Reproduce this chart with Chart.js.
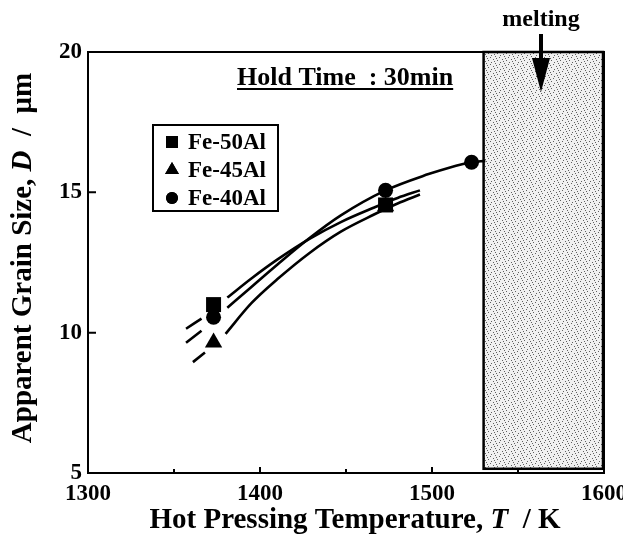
<!DOCTYPE html>
<html>
<head>
<meta charset="utf-8">
<script src="https://cdn.jsdelivr.net/npm/chart.js@4.4.0/dist/chart.umd.min.js"></script>
<style>
  html, body { margin: 0; padding: 0; background: #fff; }
  #wrap { width: 623px; height: 536px; }
</style>
</head>
<body>
<div id="wrap"><canvas id="grainChart" width="623" height="536"></canvas></div>
<script>
const SERIF = '"Liberation Serif", "Times New Roman", serif';

// measured grain size (um) against hot pressing temperature (K)
const fe50Temps = [1373, 1473];
const fe50Sizes = [11.0, 14.55];
const fe45Temps = [1373, 1473];
const fe45Sizes = [9.65, 14.5];
const fe40Temps = [1373, 1473, 1523];
const fe40Sizes = [10.55, 15.07, 16.07];

// trend lines; the null leaves a break around the 1373 K symbols
const fe50FitTemps = [1357, 1366, 1373, 1381, 1395, 1410, 1429, 1447, 1466, 1480, 1493];
const fe50FitSizes = [10.14, 10.5, null, 11.25, 11.93, 12.6, 13.35, 13.94, 14.45, 14.8, 15.07];
const fe45FitTemps = [1361, 1368, 1373, 1380, 1395, 1410, 1429, 1447, 1466, 1480, 1493];
const fe45FitSizes = [8.95, 9.29, null, 9.96, 11.05, 11.9, 12.85, 13.6, 14.2, 14.6, 14.92];
const fe40FitTemps = [1357, 1366, 1373, 1381, 1395, 1410, 1429, 1447, 1473, 1498, 1510, 1523, 1531];
const fe40FitSizes = [9.64, 10.07, null, 10.89, 11.63, 12.42, 13.38, 14.18, 15.07, 15.65, 15.88, 16.07, 16.12];

// melting region
const meltTemps = [1530, 1600];
const meltSizes = [5.15, 20];

const xTicks = [1300, 1400, 1500, 1600];
const yTicks = [5, 10, 15, 20];
const legendOrder = ['Fe-50Al', 'Fe-45Al', 'Fe-40Al'];

const toPoints = (xs, ys) => xs.map((x, i) => ({ x: x, y: ys[i] }));

function marker(label, style, radius, xs, ys) {
  return {
    label: label,
    data: toPoints(xs, ys),
    showLine: false,
    pointStyle: style,
    pointRadius: radius,
    pointHoverRadius: radius,
    pointBackgroundColor: '#000',
    pointBorderColor: '#000',
    pointBorderWidth: 0,
  };
}

function fitLine(xs, ys) {
  return {
    label: '',
    data: toPoints(xs, ys),
    borderColor: '#000',
    borderWidth: 2.6,
    pointRadius: 0,
    cubicInterpolationMode: 'monotone',
    spanGaps: false,
    fill: false,
  };
}

function stipple(ctx) {
  const c = document.createElement('canvas');
  c.width = 9; c.height = 7;
  const g = c.getContext('2d');
  g.fillStyle = '#f0f0f0';
  g.fillRect(0, 0, 9, 7);
  g.fillStyle = '#606060';
  [[0, 0], [4, 1], [7, 3], [2, 4], [5, 6], [8, 5], [1, 2]].forEach(p => g.fillRect(p[0], p[1], 1, 1));
  return ctx.createPattern(c, 'repeat');
}

// draws a run of [text, italic] pieces starting at x
function mixedText(ctx, parts, size, x, y, align) {
  const fontOf = it => (it ? 'italic ' : '') + 'bold ' + size + 'px ' + SERIF;
  let total = 0;
  parts.forEach(p => { ctx.font = fontOf(p[1]); total += ctx.measureText(p[0]).width; });
  let cx = align === 'center' ? x - total / 2 : x;
  ctx.textAlign = 'left';
  parts.forEach(p => {
    ctx.font = fontOf(p[1]);
    ctx.fillText(p[0], cx, y);
    cx += ctx.measureText(p[0]).width;
  });
  return total;
}

const meltingZone = {
  id: 'meltingZone',
  beforeDatasetsDraw(chart) {
    const { ctx, scales: { x, y } } = chart;
    const l = x.getPixelForValue(meltTemps[0]);
    const r = x.getPixelForValue(meltTemps[1]);
    const t = y.getPixelForValue(meltSizes[1]);
    const b = y.getPixelForValue(meltSizes[0]);
    ctx.save();
    ctx.fillStyle = stipple(ctx);
    ctx.fillRect(l, t, r - l, b - t);
    ctx.strokeStyle = '#000';
    ctx.lineWidth = 2.5;
    ctx.strokeRect(l, t, r - l - 1, b - t);
    ctx.restore();
  }
};

const frame = {
  id: 'frame',
  afterDatasetsDraw(chart) {
    const { ctx, chartArea: a, scales: { x, y } } = chart;
    ctx.save();
    ctx.strokeStyle = '#000';
    ctx.lineWidth = 2;
    ctx.strokeRect(a.left, a.top, a.right - a.left, a.bottom - a.top);
    ctx.beginPath();
    for (let v = 1350; v < 1600; v += 50) {
      const px = x.getPixelForValue(v);
      ctx.moveTo(px, a.bottom);
      ctx.lineTo(px, a.bottom - (v % 100 === 0 ? 6 : 4));
    }
    [10, 15].forEach(v => {
      const py = y.getPixelForValue(v);
      ctx.moveTo(a.left, py);
      ctx.lineTo(a.left + 8, py);
    });
    ctx.stroke();
    ctx.restore();
  }
};

const notes = {
  id: 'notes',
  afterDraw(chart) {
    const { ctx } = chart;
    ctx.save();
    ctx.fillStyle = '#000';
    ctx.strokeStyle = '#000';
    ctx.textBaseline = 'alphabetic';

    // heading with underline
    const w = mixedText(ctx, [['Hold Time  : 30min', false]], 26, 237, 85, 'left');
    ctx.lineWidth = 2;
    ctx.beginPath();
    ctx.moveTo(237, 89);
    ctx.lineTo(237 + w, 89);
    ctx.stroke();

    // legend box
    ctx.lineWidth = 2;
    ctx.strokeRect(153, 125, 125, 86);
    legendOrder.forEach((name, i) => {
      const d = chart.data.datasets.find(s => s.label === name);
      const yy = 142 + i * 28;
      Chart.helpers.drawPoint(ctx, { pointStyle: d.pointStyle, radius: d.pointRadius * 0.8, rotation: 0, borderWidth: 0 }, 172, yy);
      ctx.fill();
      ctx.textBaseline = 'middle';
      mixedText(ctx, [[d.label, false]], 23, 188, yy + 1, 'left');
    });

    // melting label and arrow
    ctx.textBaseline = 'alphabetic';
    ctx.textAlign = 'center';
    ctx.font = 'bold 24px ' + SERIF;
    ctx.fillText('melting', 541, 26);
    ctx.fillRect(539, 34, 4, 26);
    ctx.beginPath();
    ctx.moveTo(532, 58);
    ctx.lineTo(550, 58);
    ctx.lineTo(541, 92);
    ctx.closePath();
    ctx.fill();

    // axis titles
    mixedText(ctx, [['Hot Pressing Temperature, ', false], ['T', true], ['  / K', false]], 29, 355, 528, 'center');
    ctx.translate(24, 258);
    ctx.rotate(-Math.PI / 2);
    ctx.textBaseline = 'middle';
    mixedText(ctx, [['Apparent Grain Size, ', false], ['D', true], ['  /  μm', false]], 29, 0, 0, 'center');
    ctx.restore();
  }
};

new Chart(document.getElementById('grainChart'), {
  type: 'line',
  data: {
    datasets: [
      marker('Fe-50Al', 'rect', 10.6, fe50Temps, fe50Sizes),
      marker('Fe-40Al', 'circle', 7.5, fe40Temps, fe40Sizes),
      marker('Fe-45Al', 'triangle', 10, fe45Temps, fe45Sizes),
      fitLine(fe50FitTemps, fe50FitSizes),
      fitLine(fe45FitTemps, fe45FitSizes),
      fitLine(fe40FitTemps, fe40FitSizes),
    ],
  },
  options: {
    responsive: false,
    animation: false,
    layout: { padding: { top: 52 } },
    plugins: { legend: { display: false }, tooltip: { enabled: false } },
    scales: {
      x: {
        type: 'linear',
        min: 1300,
        max: 1600,
        afterBuildTicks: s => { s.ticks = xTicks.map(v => ({ value: v })); },
        afterFit: s => { s.height = 63; s.paddingRight = 19; s.paddingLeft = 0; },
        grid: { display: false, drawTicks: false },
        border: { display: false },
        ticks: {
          color: '#000', padding: 7, maxRotation: 0,
          font: { family: SERIF, size: 23, weight: 'bold' },
          callback: v => String(v),
        },
      },
      y: {
        type: 'linear',
        min: 5,
        max: 20,
        afterBuildTicks: s => { s.ticks = yTicks.map(v => ({ value: v })); },
        afterFit: s => { s.width = 88; s.paddingTop = 0; s.paddingBottom = 0; },
        grid: { display: false, drawTicks: false },
        border: { display: false },
        ticks: {
          color: '#000', padding: 6,
          font: { family: SERIF, size: 23, weight: 'bold' },
          callback: v => String(v),
        },
      },
    },
  },
  plugins: [meltingZone, frame, notes],
});
</script>
</body>
</html>
